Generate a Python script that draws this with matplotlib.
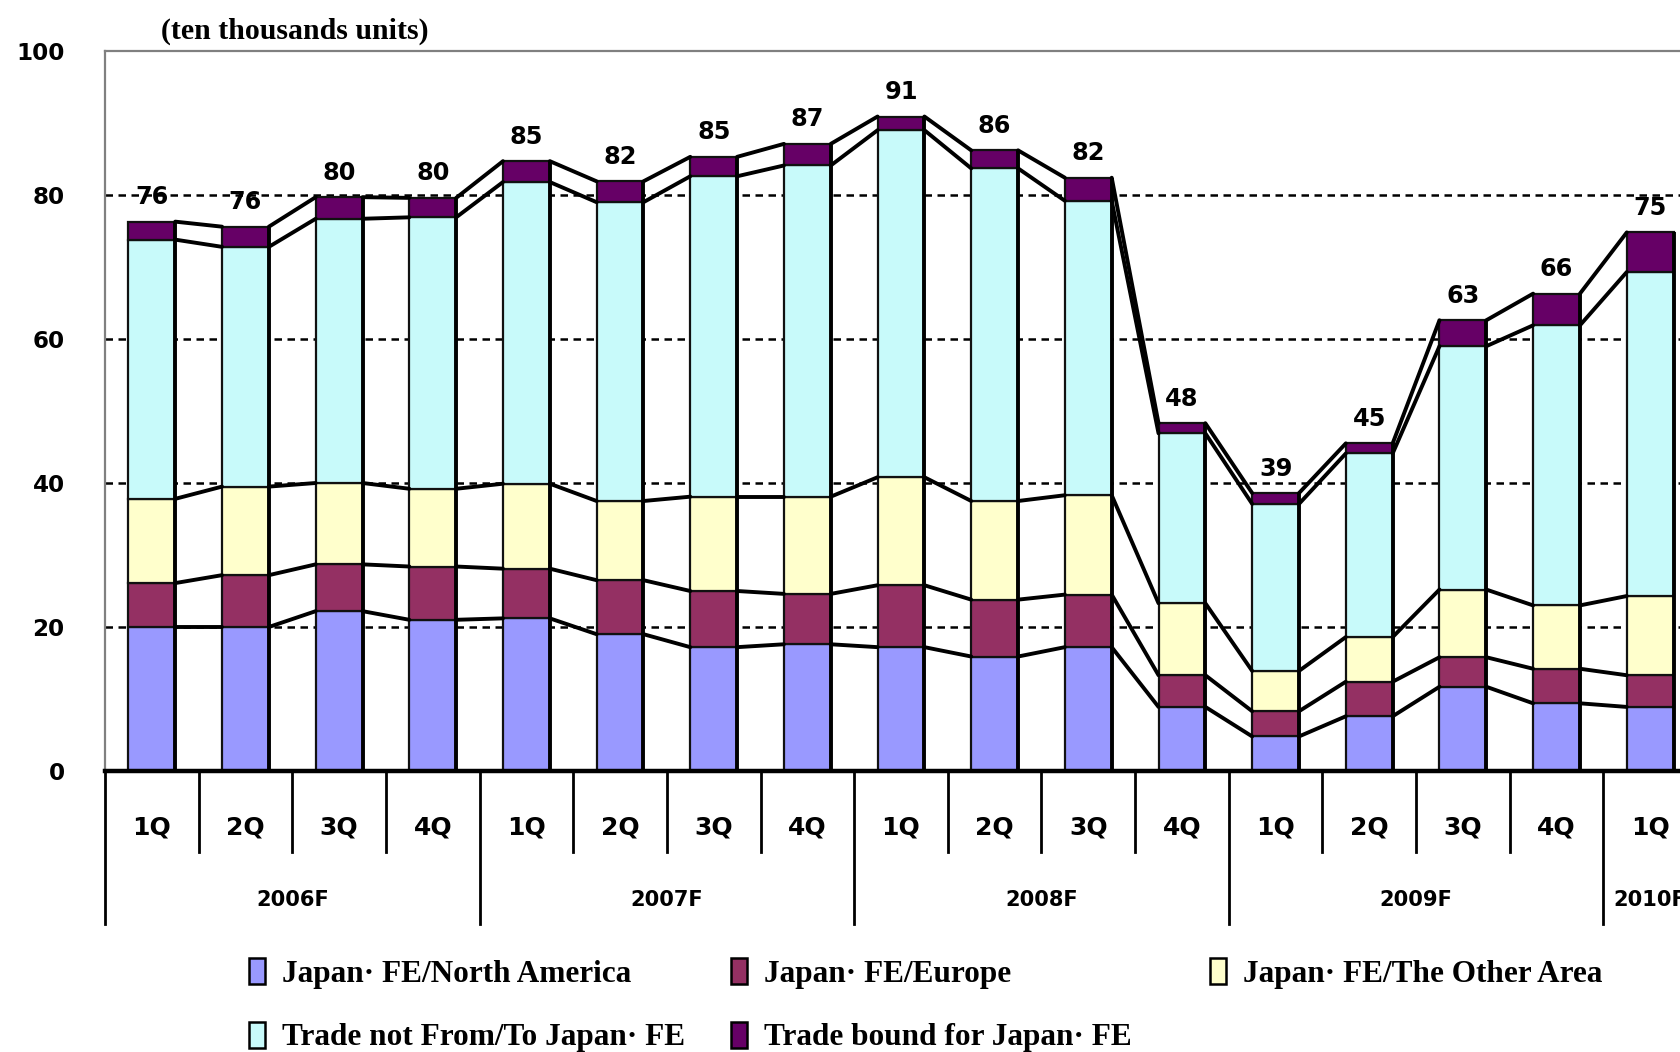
import numpy as np
import matplotlib
matplotlib.use("Agg")
import matplotlib.pyplot as plt
import matplotlib.transforms as mtransforms
from matplotlib.patches import Patch
from matplotlib.collections import LineCollection
from matplotlib import font_manager as fm

# ---------------- data (ten thousand units) ----------------
quarters = ["1Q", "2Q", "3Q", "4Q"] * 4 + ["1Q"]
years = ["2006F", "2007F", "2008F", "2009F", "2010F"]
year_spans = [4, 4, 4, 4, 1]

north_america = [20.0, 20.0, 22.2, 21.0, 21.2, 19.0, 17.2, 17.6, 17.2, 15.9, 17.2, 8.9, 4.8, 7.6, 11.7, 9.4, 8.9]
europe        = [6.1, 7.2, 6.5, 7.4, 6.9, 7.5, 7.8, 7.0, 8.6, 7.9, 7.3, 4.4, 3.5, 4.8, 4.1, 4.8, 4.4]
other_area    = [11.7, 12.3, 11.3, 10.8, 11.8, 11.0, 13.1, 13.5, 15.0, 13.7, 13.8, 10.0, 5.6, 6.2, 9.4, 8.8, 11.0]
trade_not     = [36.0, 33.3, 36.7, 37.7, 41.9, 41.5, 44.5, 46.0, 48.2, 46.2, 40.9, 23.6, 23.2, 25.5, 33.8, 38.9, 45.0]
trade_bound   = [2.5, 2.8, 3.0, 2.7, 2.9, 2.9, 2.7, 3.0, 1.9, 2.5, 3.2, 1.4, 1.5, 1.4, 3.6, 4.4, 5.5]
total_labels  = [76, 76, 80, 80, 85, 82, 85, 87, 91, 86, 82, 48, 39, 45, 63, 66, 75]

series_names = ["Japan\u00b7 FE/North America", "Japan\u00b7 FE/Europe", "Japan\u00b7 FE/The Other Area",
                "Trade not From/To Japan\u00b7 FE", "Trade bound for Japan\u00b7 FE"]
series_colors = ["#9999FF", "#943063", "#FFFFCC", "#C8FAFA", "#660066"]
y_ticks = [0, 20, 40, 60, 80, 100]
grid_levels = [20, 40, 60, 80]

# ---------------- fonts ----------------
avail = {f.name for f in fm.fontManager.ttflist}
if "Liberation Sans Narrow" in avail:
    NARROW = ["Liberation Sans Narrow", "DejaVu Sans"]
    ns = 1.0
else:
    NARROW = ["DejaVu Sans"]
    ns = 0.72
SERIF = ["Liberation Serif", "DejaVu Serif"]

W, H = 1680, 1052
fig = plt.figure(figsize=(W / 100, H / 100), dpi=100)
ax_left, ax_right, ax_top, ax_bottom = 105, 1697, 51, 771
ax = fig.add_axes([ax_left / W, (H - ax_bottom) / H, (ax_right - ax_left) / W, (ax_bottom - ax_top) / H])

series = [north_america, europe, other_area, trade_not, trade_bound]
n = len(quarters)
x = np.arange(n)
bw = 0.5
bottom = np.zeros(n)
tops = []
for vals, col, name in zip(series, series_colors, series_names):
    vals = np.array(vals)
    ax.bar(x, vals, bw, bottom=bottom, color=col, edgecolor="#111111", linewidth=1.6, zorder=3, label=name)
    bottom = bottom + vals
    tops.append(bottom.copy())
totals = bottom

# series lines connecting segment tops between adjacent bars
segs = []
for t in tops:
    for i in range(n - 1):
        segs.append([(x[i] + bw / 2, t[i]), (x[i + 1] - bw / 2, t[i + 1])])
ax.add_collection(LineCollection(segs, colors="black", linewidths=2.8, zorder=4, capstyle="round"))

# dark right edge on each bar
ax.vlines(x + bw / 2, 0, totals, colors="black", linewidth=2.8, zorder=4)

# total labels
for xi, tv, lab in zip(x, totals, total_labels):
    ax.annotate(str(lab), (xi, tv), xytext=(0, 9), textcoords="offset points",
                ha="center", va="bottom", fontsize=24 * ns, fontweight="bold", family=NARROW, zorder=6)

# grid
for g in grid_levels:
    ax.axhline(g, color="black", linestyle=(0, (3.0, 2.2)), linewidth=1.8, zorder=1)

ax.set_xlim(-0.5, n - 0.5)
ax.set_ylim(0, 100)
ax.set_yticks(y_ticks)
ax.set_yticklabels([str(v) for v in y_ticks], fontsize=23 * ns, fontweight="bold", family=NARROW)
ax.tick_params(axis="y", length=0, pad=29)
ax.set_xticks([])

for s in ["left", "top"]:
    ax.spines[s].set_color("#808080")
    ax.spines[s].set_linewidth(1.6)
ax.spines["right"].set_visible(False)
ax.spines["bottom"].set_color("black")
ax.spines["bottom"].set_linewidth(3.2)
ax.spines["bottom"].set_zorder(5)

# category axis (two levels)
trans = mtransforms.blended_transform_factory(ax.transData, ax.transAxes)
q_bottom = (ax_bottom - 852) / (ax_bottom - ax_top)
y_bottom = (ax_bottom - 924) / (ax_bottom - ax_top)
q_text = (ax_bottom - 828) / (ax_bottom - ax_top)
y_text = (ax_bottom - 900) / (ax_bottom - ax_top)
year_starts = np.cumsum([0] + year_spans[:-1])
for b in range(n + 1):
    xb = b - 0.5
    low = y_bottom if b in list(year_starts) + [n] else q_bottom
    ax.plot([xb, xb], [0, low], transform=trans, color="black", linewidth=2.0, clip_on=False, zorder=5)
for xi, q in zip(x, quarters):
    ax.text(xi, q_text, q, transform=trans, ha="center", va="center",
            fontsize=25 * ns, fontweight="bold", family=NARROW, clip_on=False)
for ys, span, yl in zip(year_starts, year_spans, years):
    ax.text(ys + (span - 1) / 2, y_text, yl, transform=trans, ha="center", va="center",
            fontsize=21 * ns, fontweight="bold", family=NARROW, clip_on=False)

# unit caption
fig.text(295 / W, 1 - 31 / H, "(ten thousands units)", ha="center", va="center",
         fontsize=21.5, fontweight="bold", family=SERIF)

# legend: three columns placed like the original grid
handles = [Patch(facecolor=c, edgecolor="black", linewidth=1.8) for c in series_colors]
columns = [([0, 3], 249), ([1, 4], 731), ([2], 1210)]
for idx, xpix in columns:
    fig.legend([handles[i] for i in idx], [series_names[i] for i in idx],
               loc="upper left", bbox_to_anchor=(xpix / W, 1 - 958 / H),
               frameon=False, borderpad=0, borderaxespad=0,
               handlelength=0.5, handleheight=0.9, handletextpad=0.55, labelspacing=1.05,
               prop={"family": SERIF, "weight": "bold", "size": 22.5})

fig.savefig("out.png", dpi=100)
